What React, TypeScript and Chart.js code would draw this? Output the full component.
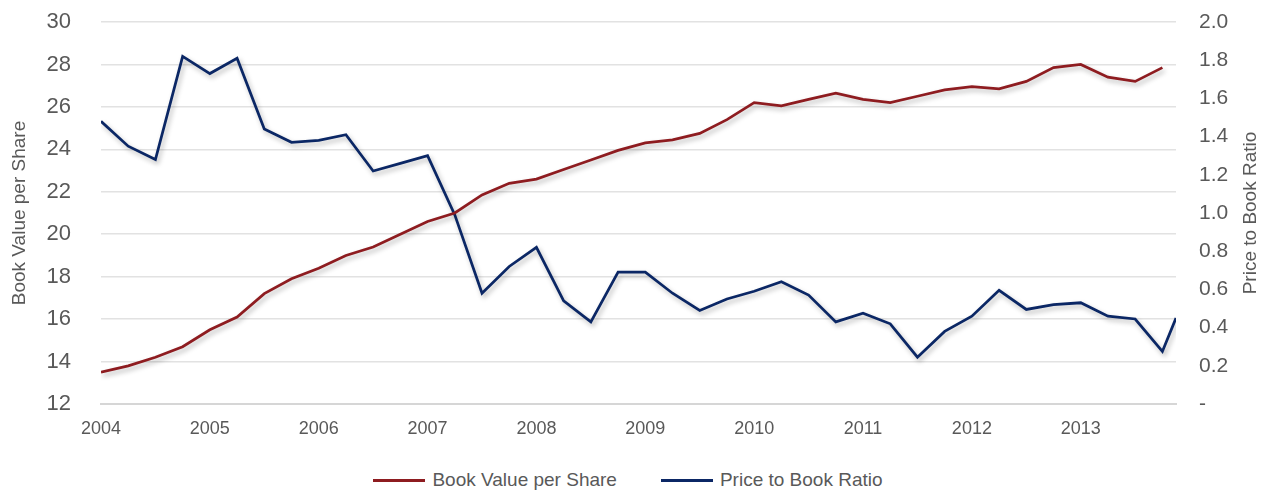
import React, { useEffect, useRef } from "react";
import { Chart, registerables } from "chart.js";

Chart.register(...registerables);

// Quarter-end dates as decimal years (2004 Q1 .. 2013 Q4)
const quarterDates: number[] = [
  2004, 2004.25, 2004.5, 2004.75,
  2005, 2005.25, 2005.5, 2005.75,
  2006, 2006.25, 2006.5, 2006.75,
  2007, 2007.25, 2007.5, 2007.75,
  2008, 2008.25, 2008.5, 2008.75,
  2009, 2009.25, 2009.5, 2009.75,
  2010, 2010.25, 2010.5, 2010.75,
  2011, 2011.25, 2011.5, 2011.75,
  2012, 2012.25, 2012.5, 2012.75,
  2013, 2013.25, 2013.5, 2013.75,
];
// Latest price-to-book reading (after the last quarter end)
const latestDate = 2013.875;

const bookValuePerShare: number[] = [
  13.5, 13.8, 14.2, 14.7, 15.5, 16.1, 17.2, 17.9, 18.4, 19.0, 19.4, 20.0, 20.6,
  21.0, 21.85, 22.4, 22.6, 23.05, 23.5, 23.95, 24.3, 24.45, 24.75, 25.4, 26.2, 26.05, 26.35,
  26.65, 26.35, 26.2, 26.5, 26.8, 26.95, 26.85, 27.2, 27.85, 28.0, 27.4, 27.2, 27.85,
];

const priceToBook: number[] = [
  1.48, 1.35, 1.28, 1.82, 1.73, 1.81, 1.44, 1.37, 1.38, 1.41, 1.22, 1.26, 1.3,
  0.99, 0.58, 0.72, 0.82, 0.54, 0.43, 0.69, 0.69, 0.58, 0.49, 0.55, 0.59, 0.64, 0.57,
  0.43, 0.475, 0.42, 0.245, 0.38, 0.46, 0.595, 0.495, 0.52, 0.53, 0.46, 0.445, 0.275,
  0.45,
];

const yearTicks: number[] = [2004, 2005, 2006, 2007, 2008, 2009, 2010, 2011, 2012, 2013];

const leftTitle = "Book Value per Share";
const rightTitle = "Price to Book Ratio";

const RED = "#8E1C20";
const BLUE = "#0B2765";
const TEXT = "#595959";
const GRID = "#E2E2E2";
const FONT = "'Liberation Sans', Arial, sans-serif";

export default function App() {
  const canvasRef = useRef<HTMLCanvasElement | null>(null);

  useEffect(() => {
    if (!canvasRef.current) return;
    const bvDates = quarterDates;
    const pbDates = [...quarterDates, latestDate];

    const shadowPlugin = {
      id: "lineShadow",
      beforeDatasetDraw(chart: any) {
        const ctx = chart.ctx;
        ctx.save();
        ctx.shadowColor = "rgba(0,0,0,0.28)";
        ctx.shadowBlur = 5;
        ctx.shadowOffsetX = 2;
        ctx.shadowOffsetY = 3;
      },
      afterDatasetDraw(chart: any) {
        chart.ctx.restore();
      },
    };

    const titlePlugin = {
      id: "axisTitles",
      afterDraw(chart: any) {
        const { ctx, chartArea } = chart;
        const cy = (chartArea.top + chartArea.bottom) / 2;
        ctx.save();
        ctx.fillStyle = TEXT;
        ctx.font = `19px ${FONT}`;
        ctx.textAlign = "center";
        ctx.textBaseline = "middle";
        ctx.save();
        ctx.translate(20, cy);
        ctx.rotate(-Math.PI / 2);
        ctx.fillText(leftTitle, 0, 0);
        ctx.restore();
        ctx.save();
        ctx.translate(1251, cy);
        ctx.rotate(-Math.PI / 2);
        ctx.fillText(rightTitle, 0, 0);
        ctx.restore();
        ctx.restore();
      },
    };

    const chart = new Chart(canvasRef.current, {
      type: "line",
      data: {
        datasets: [
          {
            label: leftTitle,
            data: bookValuePerShare.map((v, i) => ({ x: bvDates[i], y: v })),
            borderColor: RED,
            backgroundColor: RED,
            borderWidth: 2.75,
            pointRadius: 0,
            tension: 0,
            yAxisID: "y",
          },
          {
            label: rightTitle,
            data: priceToBook.map((v, i) => ({ x: pbDates[i], y: v })),
            borderColor: BLUE,
            backgroundColor: BLUE,
            borderWidth: 2.75,
            pointRadius: 0,
            tension: 0,
            yAxisID: "y1",
          },
        ],
      },
      options: {
        responsive: false,
        animation: false,
        layout: { padding: { top: 22, left: 0, right: 0, bottom: 0 } },
        plugins: {
          legend: { display: false },
          tooltip: { enabled: false },
        },
        scales: {
          x: {
            type: "linear",
            min: yearTicks[0],
            max: latestDate,
            afterBuildTicks(scale: any) {
              scale.ticks = yearTicks.map((v) => ({ value: v }));
            },
            afterFit(scale: any) {
              scale.height = 56;
            },
            ticks: {
              color: TEXT,
              font: { size: 18, family: FONT },
              padding: 14,
              maxRotation: 0,
              autoSkip: false,
              callback: (v: any) => String(v),
            },
            grid: { display: false, drawTicks: false },
            border: { display: true, color: "#D6D6D6", width: 2 },
          },
          y: {
            position: "left",
            min: 12,
            max: 30,
            ticks: {
              stepSize: 2,
              color: TEXT,
              font: { size: 22, family: FONT },
              padding: 30,
            },
            afterFit(scale: any) {
              scale.width = 101;
              scale.paddingTop = 0;
              scale.paddingBottom = 0;
            },
            grid: { color: GRID, lineWidth: 1.5, drawTicks: false },
            border: { display: false },
          },
          y1: {
            position: "right",
            min: 0,
            max: 2,
            ticks: {
              stepSize: 0.2,
              color: TEXT,
              font: { size: 21, family: FONT },
              padding: 23,
              callback: (v: any) => (Math.abs(Number(v)) < 1e-9 ? "-" : Number(v).toFixed(1)),
            },
            afterFit(scale: any) {
              scale.width = 93;
              scale.paddingTop = 0;
              scale.paddingBottom = 0;
            },
            grid: { display: false, drawTicks: false },
            border: { display: false },
          },
        },
      },
      plugins: [shadowPlugin, titlePlugin],
    });

    return () => chart.destroy();
  }, []);

  const legendItem = (color: string, text: string) => (
    <div style={{ display: "flex", alignItems: "center" }}>
      <div style={{ width: 52, height: 3, background: color, marginRight: 7 }} />
      <span>{text}</span>
    </div>
  );

  return (
    <div
      style={{
        position: "fixed",
        left: 0,
        top: 0,
        width: 1269,
        height: 492,
        background: "#fff",
        fontFamily: FONT,
        overflow: "hidden",
      }}
    >
      <canvas ref={canvasRef} width={1269} height={460} style={{ display: "block" }} />
      <div
        style={{
          position: "absolute",
          left: 0,
          top: 468,
          width: 1256,
          height: 24,
          display: "flex",
          justifyContent: "center",
          alignItems: "center",
          gap: 44,
          fontSize: 19,
          color: TEXT,
        }}
      >
        {legendItem(RED, leftTitle)}
        {legendItem(BLUE, rightTitle)}
      </div>
    </div>
  );
}
